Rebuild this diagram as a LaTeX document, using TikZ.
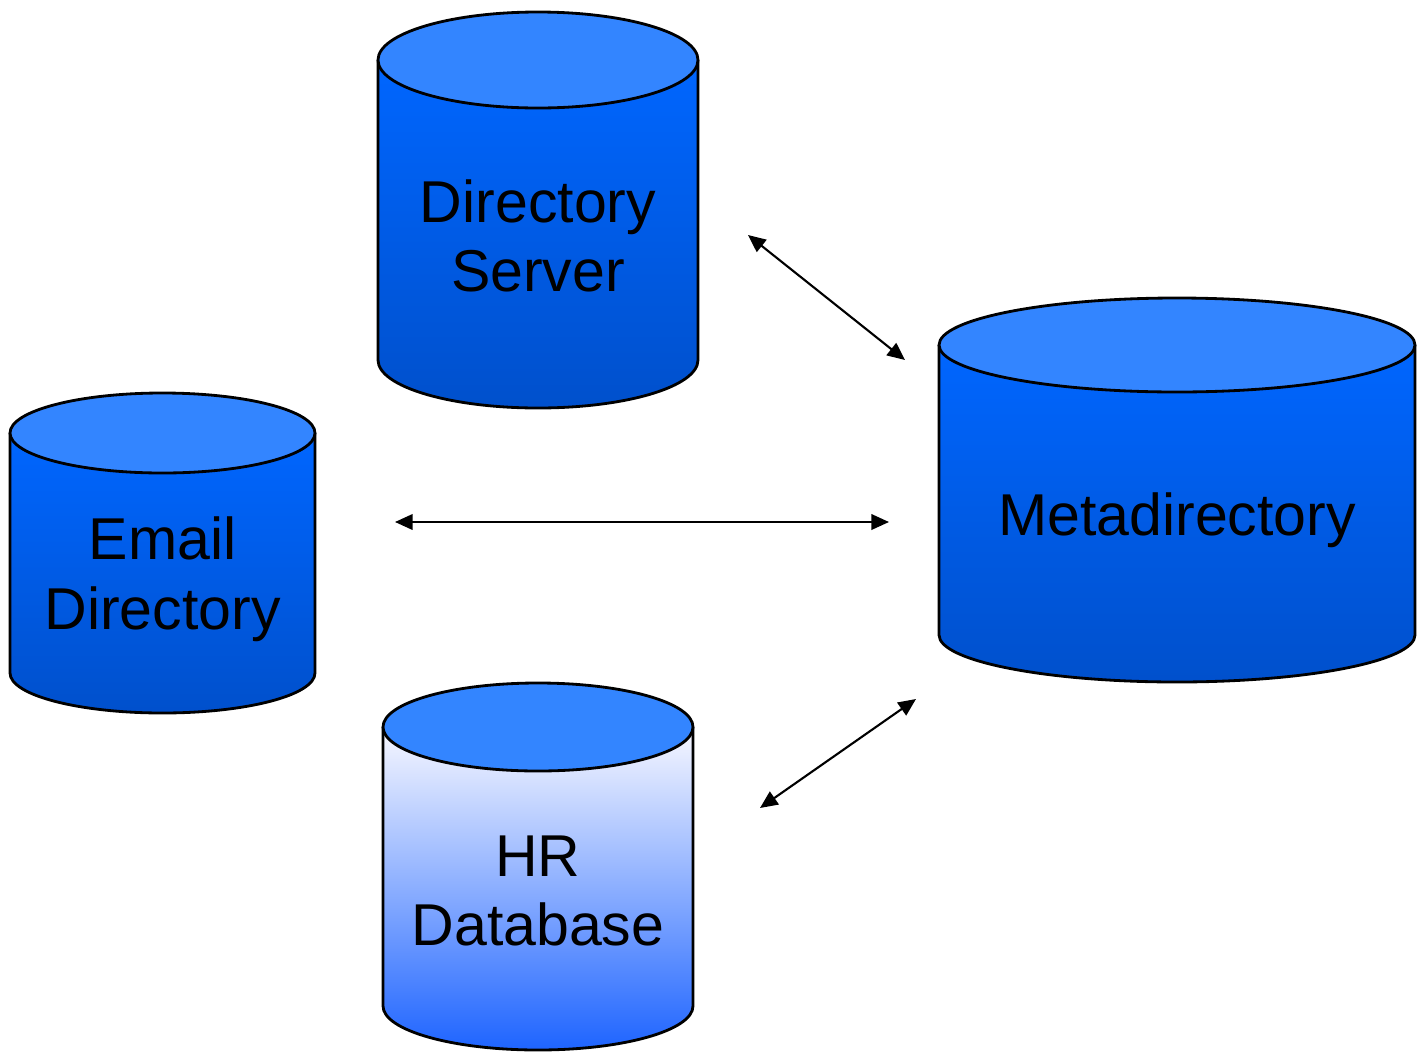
\documentclass[tikz,border=0pt]{standalone}
\usepackage{fontspec}
\setmainfont{Liberation Sans}
\usetikzlibrary{arrows.meta,positioning,calc}

\definecolor{dbcap}{RGB}{51,133,255}
\definecolor{dbblue}{RGB}{0,102,255}
\definecolor{dbdark}{RGB}{0,80,204}
\definecolor{hrlight}{RGB}{248,248,255}
\definecolor{hrblue}{RGB}{30,100,255}

\tikzset{
    dbcap/.style={fill=dbcap, draw=black, line width=0.8pt},
    dbbody/.style={top color=dbblue, bottom color=dbdark},
    hrbody/.style={top color=hrlight, bottom color=hrblue},
    dblabel/.style={font=\fontsize{16.8}{19.8}\selectfont, align=center},
    link/.style={{Triangle[length=5pt,width=4.4pt]}-{Triangle[length=5pt,width=4.4pt]}, line width=0.6pt}
}

% database cylinder: center x, top y, bottom y, x radius, y radius, body style
\newcommand{\dbcyl}[6]{
    \shade[#6] ({#1-#4},#2) -- ({#1-#4},#3) arc (180:360:#4cm and #5cm)
        -- ({#1+#4},#2) arc (0:-180:#4cm and #5cm) -- cycle;
    \draw[line width=0.8pt] ({#1-#4},#2) -- ({#1-#4},#3) arc (180:360:#4cm and #5cm)
        -- ({#1+#4},#2);
    \draw[dbcap] (#1,#2) ellipse (#4cm and #5cm);
}

\begin{document}
\begin{tikzpicture}
    \useasboundingbox (0,0) rectangle (14.17,10.55);

    % the four databases
    \dbcyl{5.38}{9.95}{6.95}{1.60}{0.48}{dbbody}
    \dbcyl{1.625}{6.22}{3.82}{1.525}{0.40}{dbbody}
    \dbcyl{11.77}{7.10}{4.20}{2.38}{0.47}{dbbody}
    \dbcyl{5.38}{3.28}{0.49}{1.55}{0.44}{hrbody}

    % labels
    \node[dblabel] (dirsrv) at (5.38,8.19) {Directory\\Server};
    \node[dblabel] (email)  at (1.625,4.76) {Email\\Directory};
    \node[dblabel] (meta)   at (11.77,5.35) {Metadirectory};
    \node[dblabel] (hrdb)   at (5.38,1.64) {HR\\Database};

    % link ends
    \coordinate (dirsrv-out) at (7.48,8.20);
    \coordinate (meta-in1)   at (9.05,6.95);
    \coordinate (email-out)  at (3.95,5.33);
    \coordinate (meta-in2)   at (8.89,5.33);
    \coordinate (hrdb-out)   at (7.60,2.47);
    \coordinate (meta-in3)   at (9.16,3.56);

    % links
    \draw[link] (dirsrv-out) -- (meta-in1);
    \draw[link] (email-out) -- (meta-in2);
    \draw[link] (hrdb-out) -- (meta-in3);
\end{tikzpicture}
\end{document}
